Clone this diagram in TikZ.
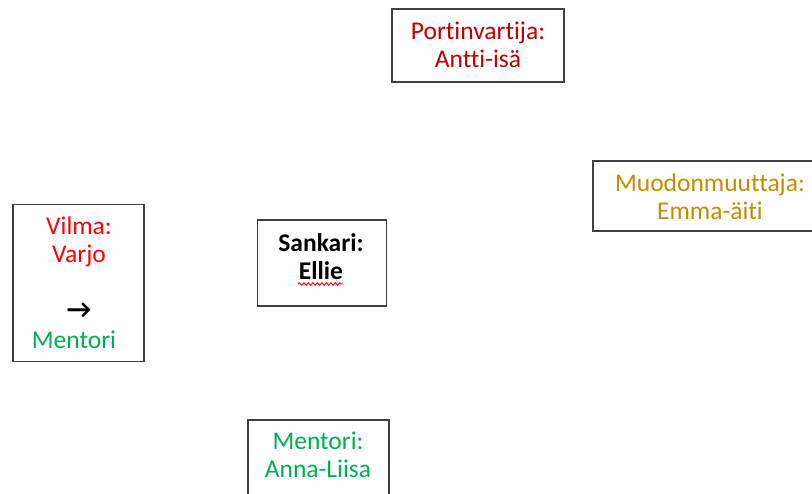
\documentclass[tikz,border=0pt]{standalone}
\usepackage{fontspec}
\setmainfont[Ligatures=NoCommon]{Carlito}
\usetikzlibrary{decorations.pathmorphing}
\definecolor{darkred}{HTML}{C00000}
\definecolor{gold}{HTML}{BF8F00}
\definecolor{brightred}{HTML}{FF0000}
\definecolor{mgreen}{HTML}{00B050}
\definecolor{boxgray}{HTML}{404040}
\tikzset{
  frame/.style={draw=boxgray, line width=1.1pt, rectangle, inner sep=0pt},
  txt/.style={align=center, inner sep=0pt, font=\fontsize{25.5}{28}\selectfont}
}
\begin{document}
\begin{tikzpicture}[x=1pt,y=-1pt]
\useasboundingbox (0,0) rectangle (812,494);
% boxes
\node[frame, minimum width=172pt, minimum height=73pt] (b1) at (478,45.5) {};
\node[frame, minimum width=240pt, minimum height=70pt] (b2) at (713,196) {};
\node[frame, minimum width=131pt, minimum height=157pt] (b3) at (78.5,283) {};
\node[frame, minimum width=129pt, minimum height=86pt] (b4) at (322,263) {};
\node[frame, minimum width=141pt, minimum height=100pt] (b5) at (318.5,470) {};
% texts
\node[txt, text=darkred] (t1) at (478,45) {Portinvartija:\\Antti-isä};
\node[txt, text=gold] (t2) at (710,197) {Muodonmuuttaja:\\Emma-äiti};
\node[txt, text=brightred] (t3a) at (79,242) {Vilma:\\Varjo};
\node[txt, font=\fontsize{27}{28}\selectfont\bfseries] (t3b) at (79,311) {→};
\node[txt, text=mgreen] (t3c) at (74,340) {Mentori};
\node[txt, font=\fontsize{25.5}{28}\selectfont\bfseries] (t4) at (321,257) {Sankari:\\Ellie};
\node[txt, text=mgreen] (t5) at (318,455) {Mentori:\\Anna-Liisa};
% spell-check underline
\coordinate (w1) at (298,284);
\coordinate (w2) at (343,284);
\draw[red, line width=0.9pt, decorate, decoration={snake, amplitude=1.3pt, segment length=4.5pt}] (w1) -- (w2);
\end{tikzpicture}
\end{document}
